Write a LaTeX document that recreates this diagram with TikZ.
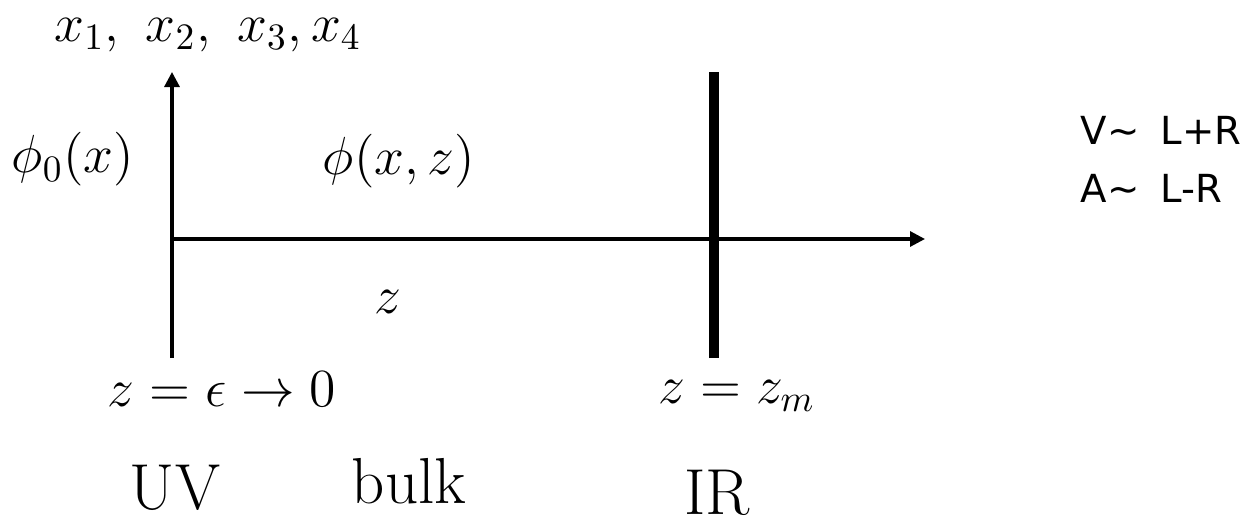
\documentclass[tikz,border=0pt]{standalone}
\usepackage{fontspec}
\newfontfamily\notesfont{DejaVu Sans}
\usetikzlibrary{arrows.meta}
\tikzset{
  axis/.style={line width=0.9pt,-{Triangle[length=1.5mm,width=1.5mm]}},
  wall/.style={line width=2.6pt},
  mlab/.style={anchor=base,inner sep=0pt,scale=1.06,transform shape,font=\fontsize{14.4}{17}\selectfont},
  reg/.style={anchor=base,inner sep=0pt,font=\fontsize{18.5}{22}\selectfont},
  note/.style={anchor=base west,inner sep=0pt,font=\notesfont\fontsize{11}{13}\selectfont}
}
\begin{document}
\begin{tikzpicture}
\useasboundingbox (0,0) rectangle (12.5,5.22);
% axes and the IR wall
\coordinate (o) at (1.72,2.83);
\coordinate (ubot) at (1.72,1.64);
\coordinate (utop) at (1.72,4.50);
\coordinate (zend) at (9.25,2.83);
\coordinate (wbot) at (7.14,1.64);
\coordinate (wtop) at (7.14,4.50);
\draw[axis] (ubot)--(utop);
\draw[axis] (o)--(zend);
\draw[wall] (wbot)--(wtop);

% labels
\node[mlab] (xs) at (2.08,4.81) {$x_1,\ x_2,\ x_3, x_4$};
\node[mlab] (bdy) at (0.73,3.49) {$\phi_0(x)$};
\node[mlab] (blk) at (3.99,3.48) {$\phi(x,z)$};
\node[mlab] (zax) at (3.88,2.09) {$z$};
\node[mlab] (uvpos) at (2.22,1.16) {$z=\epsilon\rightarrow 0$};
\node[mlab] (irpos) at (7.37,1.19) {$z=z_m$};
\node[reg] (uv) at (1.75,0.13) {UV};
\node[reg] (bulk) at (4.09,0.19) {bulk};
\node[reg] (ir) at (7.17,0.08) {IR};

\node[note] (vec) at (10.80,3.77) {V\textasciitilde\hspace{0.55em}L+R};
\node[note] (ax) at (10.80,3.20) {A\textasciitilde\hspace{0.55em}L-R};
\end{tikzpicture}
\end{document}
